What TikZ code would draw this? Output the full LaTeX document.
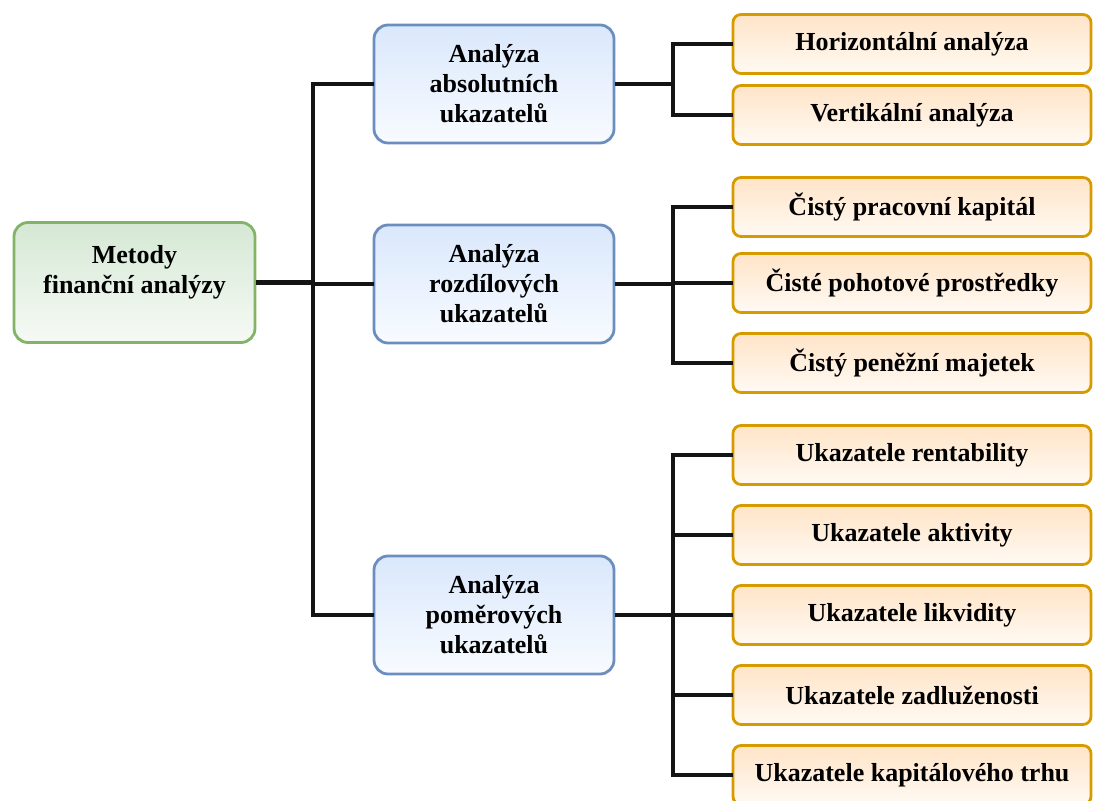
\documentclass[tikz,border=0pt]{standalone}
\usepackage{fontspec}
\setmainfont{Liberation Serif}
\usepackage{tikz}
\usetikzlibrary{calc,positioning}
\usepackage{xcolor}
\definecolor{rootline}{RGB}{130,179,102}
\definecolor{roottop}{RGB}{213,232,212}
\definecolor{rootbot}{RGB}{246,250,245}
\definecolor{midline}{RGB}{108,142,191}
\definecolor{midtop}{RGB}{218,232,252}
\definecolor{midbot}{RGB}{248,251,255}
\definecolor{leafline}{RGB}{215,155,0}
\definecolor{leaftop}{RGB}{255,228,200}
\definecolor{leafbot}{RGB}{255,250,243}
\definecolor{wire}{RGB}{20,20,20}

\begin{document}
\begin{tikzpicture}[x=0.5pt,y=-0.5pt,
  box/.style={align=center,inner sep=2pt,font=\bfseries\fontsize{13}{15}\selectfont,line width=1.4pt},
  rootbox/.style={box,draw=rootline,top color=roottop,bottom color=rootbot,rounded corners=7pt,minimum width=120.5pt,minimum height=60pt,text depth=13pt},
  midbox/.style={box,draw=midline,top color=midtop,bottom color=midbot,rounded corners=7pt,minimum width=120pt,minimum height=59pt},
  leafbox/.style={box,draw=leafline,top color=leaftop,bottom color=leafbot,rounded corners=4pt,minimum width=179pt,minimum height=29.5pt},
  thinwire/.style={draw=wire,line width=1.6pt,line cap=rect},
  thickwire/.style={draw=wire,line width=2.4pt}]
  \useasboundingbox (0,0) rectangle (1093,801);

  % junction columns
  \coordinate (jroot) at (313,0);
  \coordinate (jabs) at (673,0);
  \coordinate (jroz) at (673,0);
  \coordinate (jpom) at (673,0);

  \node[rootbox] (root) at (134.5,282.5) {Metody\\finanční analýzy};

  \node[midbox] (abs) at (494,84) {Analýza\\absolutních\\ukazatelů};
  \node[midbox] (roz) at (494,284) {Analýza\\rozdílových\\ukazatelů};
  \node[midbox] (pom) at (494,615) {Analýza\\poměrových\\ukazatelů};

  \node[leafbox] (hor) at (912,44) {Horizontální analýza};
  \node[leafbox] (ver) at (912,115) {Vertikální analýza};

  \node[leafbox] (cpk) at (912,207) {Čistý pracovní kapitál};
  \node[leafbox] (cpp) at (912,283) {Čisté pohotové prostředky};
  \node[leafbox] (cpm) at (912,363) {Čistý peněžní majetek};

  \node[leafbox] (rent) at (912,455) {Ukazatele rentability};
  \node[leafbox] (akt) at (912,535) {Ukazatele aktivity};
  \node[leafbox] (lik) at (912,615) {Ukazatele likvidity};
  \node[leafbox] (zad) at (912,695) {Ukazatele zadluženosti};
  \node[leafbox] (trh) at (912,775) {Ukazatele kapitálového trhu};

  % root to the three methods
  \draw[thickwire] (root.east) -- (root.east -| jroot);
  \draw[thinwire] (abs.west) -- (abs.west -| jroot) -- (pom.west -| jroot) -- (pom.west);
  \draw[thinwire] (roz.west -| jroot) -- (roz.west);

  % absolute indicators
  \draw[thickwire] (abs.east) -- (abs.east -| jabs);
  \draw[thinwire] (hor.west) -- (hor.west -| jabs) -- (ver.west -| jabs) -- (ver.west);

  % difference indicators
  \draw[thickwire] (roz.east) -- (roz.east -| jroz);
  \draw[thinwire] (cpk.west) -- (cpk.west -| jroz) -- (cpm.west -| jroz) -- (cpm.west);
  \draw[thinwire] (cpp.west -| jroz) -- (cpp.west);

  % ratio indicators
  \draw[thickwire] (pom.east) -- (pom.east -| jpom);
  \draw[thinwire] (rent.west) -- (rent.west -| jpom) -- (trh.west -| jpom) -- (trh.west);
  \draw[thinwire] (akt.west -| jpom) -- (akt.west);
  \draw[thinwire] (lik.west -| jpom) -- (lik.west);
  \draw[thinwire] (zad.west -| jpom) -- (zad.west);
\end{tikzpicture}
\end{document}
